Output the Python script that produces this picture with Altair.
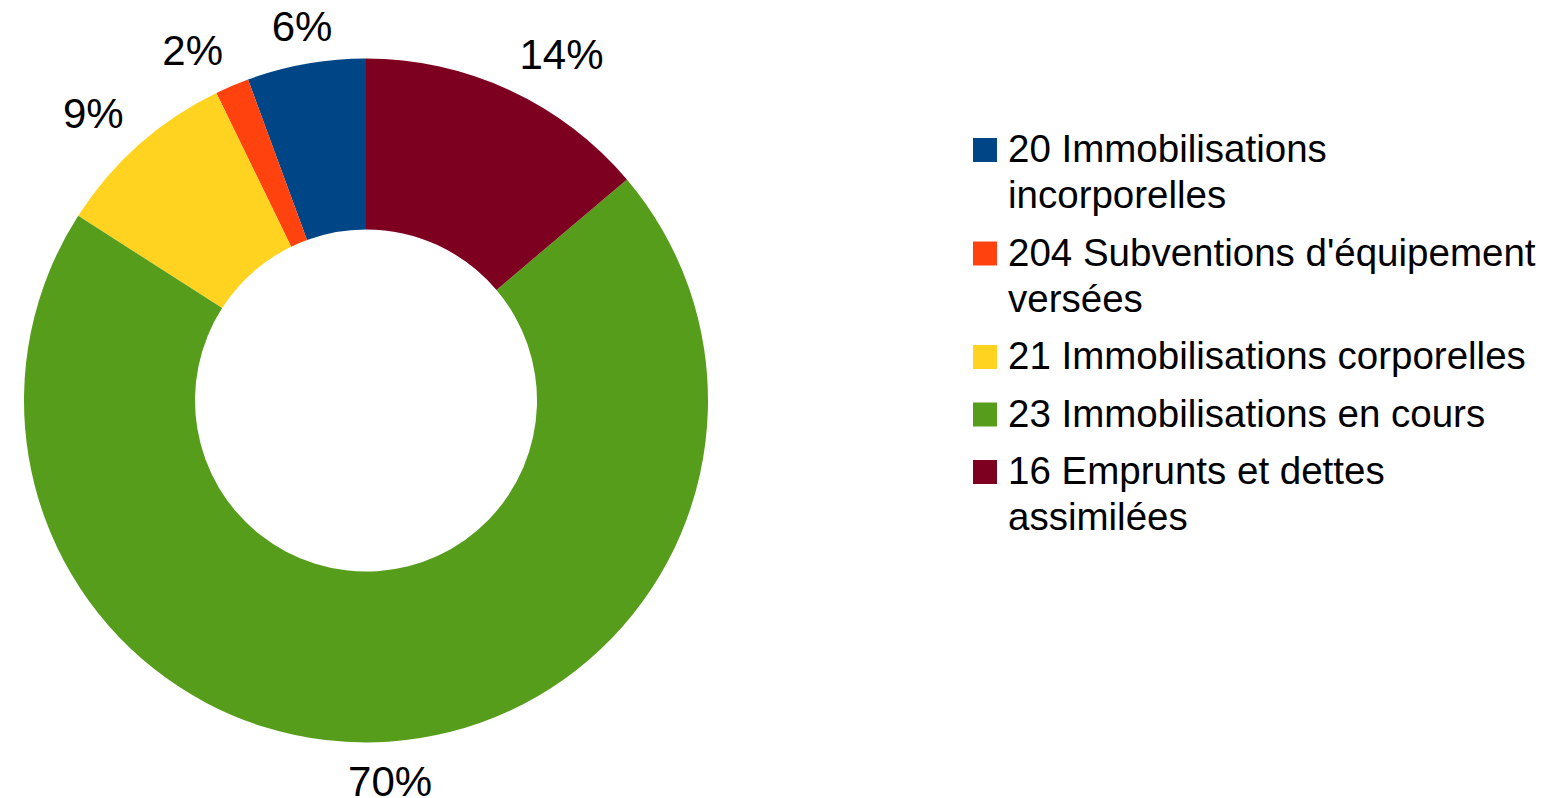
import altair as alt
import pandas as pd

# ---- data ----
categories = [
    "20 Immobilisations incorporelles",
    "204 Subventions d'équipement versées",
    "21 Immobilisations corporelles",
    "23 Immobilisations en cours",
    "16 Emprunts et dettes assimilées",
]
values = [5.6, 1.6, 8.7, 70.2, 13.8]
pct_labels = ["6%", "2%", "9%", "70%", "14%"]
colors = ["#004586", "#ff420e", "#ffd320", "#579d1c", "#7e0021"]
legend_lines = [
    ["20 Immobilisations", "incorporelles"],
    ["204 Subventions d'équipement", "versées"],
    ["21 Immobilisations corporelles"],
    ["23 Immobilisations en cours"],
    ["16 Emprunts et dettes", "assimilées"],
]

FONT = "Liberation Sans"
W, H = 1537, 790
CX, CY = 358, 392.5
R_OUT, R_IN = 342, 171
# label placement: text box set just outside an anchor ring, aligned by quadrant
FS = 42
R0, HH = 365, 15.5
GAP = 0.25  # gap between legend entries, in line heights
LINE_H = 46
FIRST_Y = 142

pie_df = pd.DataFrame({
    "cat": categories,
    "value": values,
    "label": pct_labels,
    "idx": list(range(len(categories))),
})

# legend rows (one per text line), positions derived from line counts
rows = []
sym_rows = []
cum = 0.0
for i, (cat, lines) in enumerate(zip(categories, legend_lines)):
    start = cum + i * GAP
    sym_rows.append({"cat": cat, "pos": start})
    for j, ln in enumerate(lines):
        rows.append({"cat": cat, "text": ln, "pos": start + j})
    cum += len(lines)
leg_text_df = pd.DataFrame(rows)
leg_sym_df = pd.DataFrame(sym_rows)

color_scale = alt.Scale(domain=categories, range=colors)
y_scale = alt.Scale(domain=[-FIRST_Y / LINE_H, (H - FIRST_Y) / LINE_H],
                    reverse=True, nice=False, zero=False)

arcs = alt.Chart(pie_df).mark_arc(innerRadius=R_IN, outerRadius=R_OUT).encode(
    theta=alt.Theta("value:Q", stack=True),
    order=alt.Order("idx:Q", sort="descending"),
    color=alt.Color("cat:N", scale=color_scale, legend=None),
    x=alt.value(CX),
    y=alt.value(CY),
)

labels = (
    alt.Chart(pie_df)
    .transform_joinaggregate(total="sum(value)")
    .transform_window(cum="sum(value)", sort=[alt.SortField("idx", order="descending")],
                      frame=[None, 0])
    .transform_calculate(mid="2*PI*(datum.cum - datum.value/2)/datum.total")
    .transform_calculate(s="sin(datum.mid)", c="cos(datum.mid)",
                         hw=f"0.5*{FS}*(0.556*(length(datum.label)-1)+0.889)")
    .transform_calculate(
        sx="datum.s > 0.3 ? 1 : (datum.s < -0.3 ? -1 : 0)",
        sy="datum.c > 0.3 ? 1 : (datum.c < -0.3 ? -1 : 0)",
    )
    .transform_calculate(
        px=f"{R0}*datum.s + datum.hw*datum.sx",
        py=f"-{R0}*datum.c - {HH}*datum.sy + 2.4",
    )
    .transform_calculate(
        r="sqrt(datum.px*datum.px + datum.py*datum.py)",
        ang="atan2(datum.px, -datum.py)",
    )
    .mark_text(fontSize=FS, font=FONT, color="black", align="center", baseline="middle")
    .encode(
        theta=alt.Theta("ang:Q", scale=None, stack=False),
        radius=alt.Radius("r:Q", scale=None),
        text="label:N",
        x=alt.value(CX),
        y=alt.value(CY),
    )
)

leg_sym = alt.Chart(leg_sym_df).mark_square(size=576, opacity=1, filled=True).encode(
    x=alt.value(977),
    y=alt.Y("pos:Q", scale=y_scale, axis=None),
    color=alt.Color("cat:N", scale=color_scale, legend=None),
)

leg_txt = alt.Chart(leg_text_df).mark_text(fontSize=38.5, font=FONT, color="black",
                                           align="left", baseline="middle").encode(
    x=alt.value(1000),
    y=alt.Y("pos:Q", scale=y_scale, axis=None),
    text="text:N",
)

chart = alt.layer(arcs, labels, leg_sym, leg_txt).properties(
    width=W, height=H, padding=0,
    autosize=alt.AutoSizeParams(type="none"),
).configure_view(stroke=None)

chart.save("out.html", embed_options={"renderer": "svg", "actions": False})
